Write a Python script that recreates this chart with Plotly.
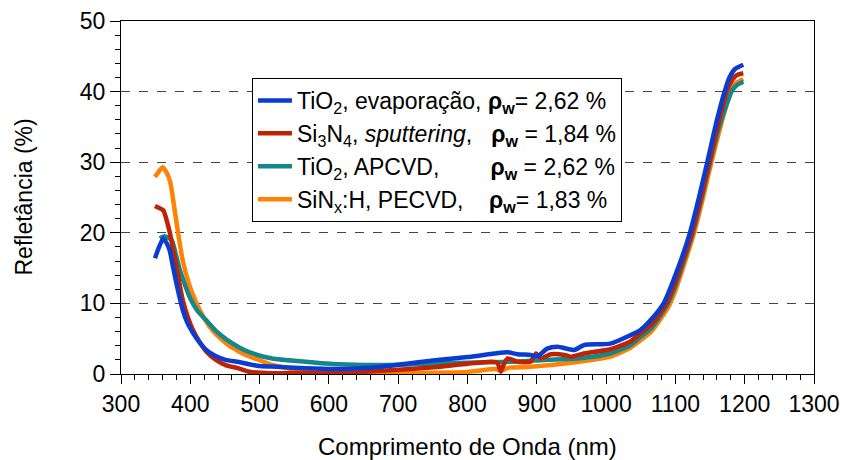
import plotly.graph_objects as go

# Wavelength (nm) and reflectance (%)
wl_blue = [349, 355, 361, 366, 370, 375, 380, 389, 396, 404, 413, 423, 437, 451, 470, 499, 518, 566, 614, 650, 676, 700, 757, 800,
           839, 858, 872, 891, 901, 915, 930, 954, 968, 1006, 1035, 1049, 1064, 1083, 1100, 1121, 1134, 1146, 1160, 1171,
           1178, 1186, 1198]
r_blue = [16.4, 18.0, 19.2, 18.5, 17.6, 15.2, 12.8, 9.1, 7.2, 5.8, 4.5, 3.4, 2.5, 2.0, 1.7, 1.13, 1.05, 0.8, 0.7, 0.85, 1.03, 1.3,
          2.0, 2.4, 2.9, 3.07, 2.8, 2.7, 2.5, 3.6, 3.85, 3.4, 4.1, 4.3, 5.5, 6.2, 7.6, 10.0, 14.0, 20.0, 25.0, 30.0, 36.0,
          40.0, 42.0, 43.2, 43.8]

wl_red = [349, 355, 361, 370, 375, 380, 389, 396, 404, 413, 423, 437, 451, 470, 485, 518, 566, 614, 650, 676, 700, 757, 800, 834,
          843, 848, 853, 858, 872, 891, 899, 906, 920, 940, 949, 968, 1006, 1035, 1050, 1064, 1085, 1100, 1124, 1137, 1149,
          1162, 1174, 1181, 1188, 1198]
r_red = [23.8, 23.5, 23.2, 20.2, 17.7, 15.2, 10.5, 8.2, 6.2, 4.6, 3.2, 2.0, 1.27, 0.8, 0.33, 0.1, 0.15, 0.15, 0.3, 0.47, 0.6, 1.0,
         1.45, 1.74, 1.6, 0.33, 1.5, 2.2, 1.74, 1.74, 2.9, 2.2, 2.8, 2.7, 2.45, 2.9, 3.5, 4.6, 5.8, 6.9, 9.6, 13.0, 20.0, 25.0,
         30.0, 35.5, 40.0, 41.5, 42.3, 42.6]

wl_teal = [356, 363, 373, 379, 385, 392, 399, 410, 423, 437, 452, 470, 485, 518, 566, 614, 676, 757, 800, 850, 880, 911, 959,
           1006, 1035, 1050, 1065, 1087, 1100, 1125, 1138, 1150, 1163, 1175, 1182, 1190, 1198]
r_teal = [19.2, 19.5, 19.0, 17.0, 14.7, 12.7, 10.9, 9.0, 7.6, 6.1, 4.9, 3.8, 3.1, 2.2, 1.74, 1.37, 1.27, 1.5, 1.6, 1.7, 1.8, 2.0, 2.2,
          2.9, 4.1, 5.3, 6.5, 9.6, 12.5, 20.0, 25.0, 30.0, 35.0, 38.5, 40.2, 41.0, 41.4]

wl_orange = [349, 354, 360, 366, 371, 380, 389, 398, 409, 420, 432, 444, 456, 470, 485, 499, 518, 532, 566, 600, 700, 800, 839,
             850, 860, 887, 959, 1006, 1035, 1050, 1065, 1090, 1100, 1127, 1140, 1152, 1165, 1175, 1185, 1198]
r_orange = [27.9, 28.6, 29.3, 28.5, 27.2, 21.5, 16.1, 12.8, 10.0, 7.9, 6.2, 5.0, 4.0, 3.2, 2.5, 2.0, 1.27, 1.0, 0.33, 0.15, 0.15,
            0.3, 0.7, 0.5, 0.9, 1.0, 1.7, 2.45, 3.7, 4.8, 6.0, 9.5, 11.8, 20.0, 25.0, 30.0, 35.0, 38.5, 41.0, 41.8]

NB = "\u00a0"
names = {
    "blue": "TiO<sub>2</sub>, evaporação, <b>ρ<sub>w</sub></b>= 2,62 %",
    "red": "Si<sub>3</sub>N<sub>4</sub>, <i>sputtering</i>," + NB * 3 + "<b>ρ<sub>w</sub></b> = 1,84 %",
    "teal": "TiO<sub>2</sub>, APCVD," + NB * 8 + "<b>ρ<sub>w</sub></b> = 2,62 %",
    "orange": "SiN<sub>x</sub>:H, PECVD," + NB * 4 + "<b>ρ<sub>w</sub></b>= 1,83 %",
}
colors = {"blue": "#0A3CD2", "red": "#BE2305", "teal": "#14878A", "orange": "#FF8205"}

x_ticks = [300, 400, 500, 600, 700, 800, 900, 1000, 1100, 1200, 1300]
y_ticks = [0, 10, 20, 30, 40, 50]
x_title = "Comprimento de Onda (nm)"
y_title = "Refletância (%)"

fig = go.Figure()
for key, xs, ys in [("orange", wl_orange, r_orange), ("teal", wl_teal, r_teal),
                    ("red", wl_red, r_red), ("blue", wl_blue, r_blue)]:
    fig.add_trace(go.Scatter(x=xs, y=ys, mode="lines", name=names[key],
                             line=dict(color=colors[key], width=4.5, shape="spline", smoothing=0.6)))

FONT = "Arial, Liberation Sans, sans-serif"
fig.update_layout(
    width=844, height=460,
    margin=dict(l=121, r=30, t=21, b=86, autoexpand=False),
    paper_bgcolor="white", plot_bgcolor="white",
    font=dict(family=FONT, size=23, color="black"),
    showlegend=True,
    legend=dict(x=0.189, y=0.8385, xanchor="left", yanchor="top", traceorder="reversed",
                bgcolor="white", bordercolor="black", borderwidth=1,
                font=dict(family=FONT, size=23, color="black"), itemwidth=34, tracegroupgap=0),
    annotations=[
        dict(text=x_title, xref="paper", yref="paper", x=0.5, y=-0.206, xanchor="center", yanchor="middle",
             showarrow=False, font=dict(size=24)),
        dict(text=y_title, xref="paper", yref="paper", x=-0.1414, y=0.5, xanchor="center", yanchor="middle",
             textangle=-90, showarrow=False, font=dict(size=23)),
    ],
)
fig.update_xaxes(range=[300, 1300], tickvals=x_ticks, ticktext=[str(v) for v in x_ticks], automargin=False,
                 showline=True, linecolor="black", linewidth=1, mirror=True,
                 ticks="outside", ticklen=9, tickcolor="black", showgrid=False, zeroline=False,
                 minor=dict(dtick=20, ticks="outside", ticklen=5, tickcolor="black", showgrid=False),
                 tickfont=dict(size=23))
fig.update_yaxes(range=[0, 50], tickvals=y_ticks, ticktext=[str(v) for v in y_ticks], automargin=False,
                 showline=True, linecolor="black", linewidth=1, mirror=True,
                 ticks="outside", ticklen=10, tickcolor="black", zeroline=False,
                 showgrid=True, gridcolor="#444444", gridwidth=1, griddash="dash",
                 minor=dict(dtick=2, ticks="outside", ticklen=5, tickcolor="black", showgrid=False),
                 tickfont=dict(size=23))

fig.write_html("out.html")
